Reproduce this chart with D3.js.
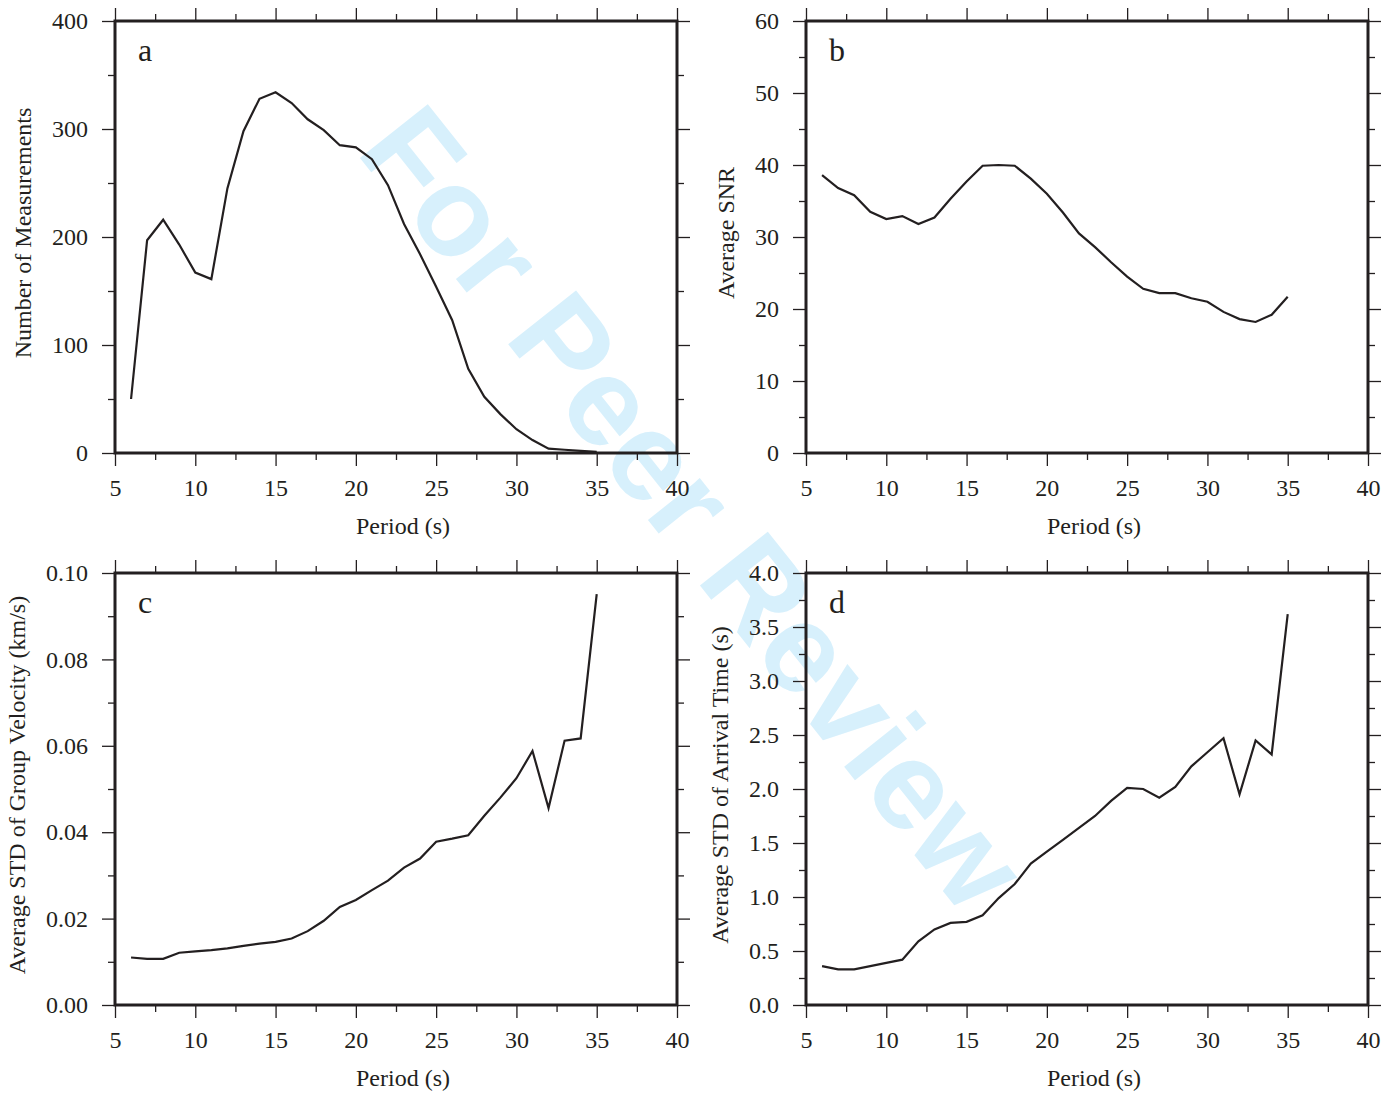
<!DOCTYPE html>
<html>
<head>
<meta charset="utf-8">
<script src="https://cdn.jsdelivr.net/npm/d3@7"></script>
<style>
  html, body { margin: 0; padding: 0; background: #fff; }
  svg { display: block; }
  text { font-family: "Liberation Serif", "Times New Roman", serif; fill: #231f20; }
</style>
</head>
<body>
<script>
'use strict';

// periods (s), shared by all four panels
const periods = [6, 7, 8, 9, 10, 11, 12, 13, 14, 15, 16, 17, 18, 19, 20,
  21, 22, 23, 24, 25, 26, 27, 28, 29, 30, 31, 32, 33, 34, 35];

const numMeasurements = [50, 197, 216, 193, 167, 161, 245, 298, 328, 334,
  324, 309, 299, 285, 283, 272, 248, 212, 184, 154, 123, 78, 52, 36, 22,
  12, 4, 3, 2, 1];

const avgSnr = [38.6, 36.8, 35.8, 33.5, 32.5, 32.9, 31.8, 32.7, 35.3, 37.7,
  39.9, 40.0, 39.9, 38.1, 36.0, 33.4, 30.5, 28.6, 26.5, 24.5, 22.8, 22.2,
  22.2, 21.5, 21.0, 19.6, 18.6, 18.2, 19.2, 21.7];

const stdGroupVel = [0.0110, 0.0107, 0.0107, 0.0121, 0.0124, 0.0127, 0.0131,
  0.0137, 0.0142, 0.0146, 0.0154, 0.0171, 0.0195, 0.0227, 0.0243, 0.0266,
  0.0288, 0.0318, 0.0339, 0.0378, 0.0385, 0.0393, 0.0438, 0.0480, 0.0525,
  0.0588, 0.0456, 0.0612, 0.0617, 0.0951];

const stdArrival = [0.36, 0.33, 0.33, 0.36, 0.39, 0.42, 0.59, 0.70, 0.76,
  0.77, 0.83, 0.99, 1.12, 1.31, 1.42, 1.53, 1.64, 1.75, 1.89, 2.01, 2.00,
  1.92, 2.02, 2.21, 2.34, 2.47, 1.95, 2.45, 2.32, 3.62];

const xMajorTicks = [5, 10, 15, 20, 25, 30, 35, 40];
const xTitle = 'Period (s)';

const W = 1397, H = 1096;
const PW = 562, PH = 432;
const INK = '#231f20';
const MAJOR = 13, MINOR = 7, PAD = 14;

const svg = d3.select('body').append('svg')
  .attr('width', W)
  .attr('height', H);

// watermark sits underneath everything else
svg.append('text')
  .attr('transform', 'translate(694,508) rotate(51.5)')
  .attr('text-anchor', 'middle')
  .attr('dominant-baseline', 'central')
  .style('font-family', '"Liberation Sans", Arial, sans-serif')
  .style('font-weight', 'bold')
  .style('font-size', '126px')
  .style('fill', '#d7f0fc')
  .text('For Peer Review');

drawPanel({ left: 115, top: 21, letter: 'a', values: numMeasurements,
  ymax: 400, yStep: 100, fmt: d3.format('d'), yTitle: 'Number of Measurements' });
drawPanel({ left: 806, top: 21, letter: 'b', values: avgSnr,
  ymax: 60, yStep: 10, fmt: d3.format('d'), yTitle: 'Average SNR' });
drawPanel({ left: 115, top: 573, letter: 'c', values: stdGroupVel,
  ymax: 0.1, yStep: 0.02, fmt: d3.format('.2f'), yTitle: 'Average STD of Group Velocity (km/s)' });
drawPanel({ left: 806, top: 573, letter: 'd', values: stdArrival,
  ymax: 4, yStep: 0.5, fmt: d3.format('.1f'), yTitle: 'Average STD of Arrival Time (s)' });

function stepTicks(max, step) {
  const n = Math.round(max / step);
  return d3.range(n + 1).map((i) => +(i * step).toFixed(6));
}

function drawPanel(p) {
  const g = svg.append('g').attr('transform', `translate(${p.left},${p.top})`);
  const x = d3.scaleLinear().domain([5, 40]).range([0, PW]);
  const y = d3.scaleLinear().domain([0, p.ymax]).range([PH, 0]);

  const xMinor = xMajorTicks.slice(0, -1).map((v) => v + 2.5);
  const yMajor = stepTicks(p.ymax, p.yStep);
  const yMinor = yMajor.slice(0, -1).map((v) => +(v + p.yStep / 2).toFixed(6));

  const addAxis = (axis, tr, labelled) => {
    const a = g.append('g').attr('transform', tr).call(axis);
    a.select('.domain').remove();
    a.selectAll('line').attr('stroke', INK).attr('stroke-width', 1.3);
    a.selectAll('text')
      .style('font-family', '"Liberation Serif", "Times New Roman", serif')
      .style('font-size', '24px')
      .attr('fill', INK);
    if (!labelled) a.selectAll('text').remove();
    return a;
  };

  // minor ticks on all four sides
  addAxis(d3.axisBottom(x).tickValues(xMinor).tickSize(MINOR).tickFormat(''), `translate(0,${PH})`, false);
  addAxis(d3.axisTop(x).tickValues(xMinor).tickSize(MINOR).tickFormat(''), 'translate(0,0)', false);
  addAxis(d3.axisLeft(y).tickValues(yMinor).tickSize(MINOR).tickFormat(''), 'translate(0,0)', false);
  addAxis(d3.axisRight(y).tickValues(yMinor).tickSize(MINOR).tickFormat(''), `translate(${PW},0)`, false);

  // major ticks, labelled on bottom and left
  addAxis(d3.axisBottom(x).tickValues(xMajorTicks).tickSize(MAJOR).tickPadding(PAD - 1), `translate(0,${PH})`, true);
  addAxis(d3.axisTop(x).tickValues(xMajorTicks).tickSize(MAJOR), 'translate(0,0)', false);
  const yAx = addAxis(d3.axisLeft(y).tickValues(yMajor).tickSize(MAJOR).tickPadding(PAD).tickFormat(p.fmt), 'translate(0,0)', true);
  addAxis(d3.axisRight(y).tickValues(yMajor).tickSize(MAJOR), `translate(${PW},0)`, false);

  // frame
  g.append('rect')
    .attr('width', PW)
    .attr('height', PH)
    .attr('fill', 'none')
    .attr('stroke', INK)
    .attr('stroke-width', 3);

  const line = d3.line()
    .x((d, i) => x(periods[i]))
    .y((d) => y(d));

  g.append('path')
    .datum(p.values)
    .attr('d', line)
    .attr('fill', 'none')
    .attr('stroke', INK)
    .attr('stroke-width', 2.2)
    .attr('stroke-linejoin', 'miter');

  g.append('text')
    .attr('x', 23)
    .attr('y', 40)
    .style('font-size', '32px')
    .text(p.letter);

  g.append('text')
    .attr('x', PW / 2 + 7)
    .attr('y', PH + 81)
    .attr('text-anchor', 'middle')
    .style('font-size', '24px')
    .text(xTitle);

  // y title sits just left of the widest tick label
  let maxW = 0;
  yAx.selectAll('text').each(function () {
    maxW = Math.max(maxW, this.getBBox().width);
  });
  const tx = -(MAJOR + PAD) - maxW - 21;
  g.append('text')
    .attr('transform', `translate(${tx},${PH / 2 - 4}) rotate(-90)`)
    .attr('text-anchor', 'middle')
    .style('font-size', '24px')
    .text(p.yTitle);
}
</script>
</body>
</html>
